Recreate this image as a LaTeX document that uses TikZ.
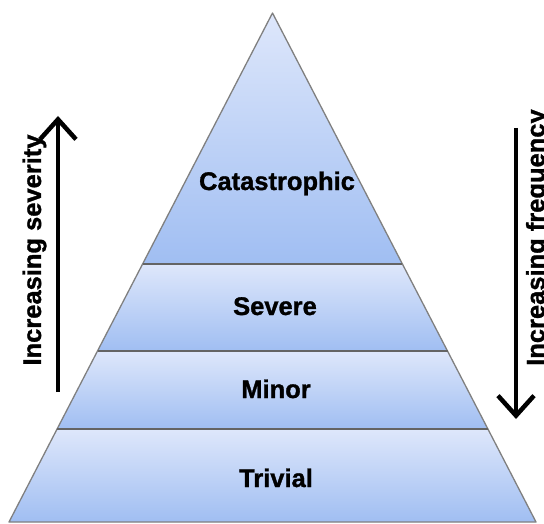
\documentclass[tikz,border=0pt]{standalone}
\usepackage{fontspec}
\setmainfont{Liberation Sans}[BoldFeatures={FakeBold=1.2}]
\usetikzlibrary{arrows.meta}
\definecolor{lighttop}{RGB}{222,231,251}
\definecolor{darkbot}{RGB}{160,190,242}
\definecolor{edgegrey}{RGB}{128,128,128}
\definecolor{sepgrey}{RGB}{100,100,100}
\tikzset{
  layer/.style={top color=lighttop, bottom color=darkbot, draw=edgegrey, line width=1.3pt, line join=round},
  sep/.style={draw=sepgrey, line width=1.8pt},
  lbl/.style={font=\fontsize{25.5}{30}\selectfont\bfseries, anchor=base, inner sep=0pt},
  sidelbl/.style={font=\fontsize{25.5}{30}\selectfont\bfseries, anchor=base, inner sep=0pt, rotate=90},
  bigarrow/.style={line width=4.5pt, -{Straight Barb[length=20pt,width=36pt,line width=4.5pt]}}
}
\begin{document}
\begin{tikzpicture}[x=1pt,y=-1pt]
\clip (0,0) rectangle (544,524);
\fill[white] (0,0) rectangle (544,524);
% pyramid corner coordinates
\coordinate (apex) at (272.5,13);
\coordinate (l1) at (142.6,264); \coordinate (r1) at (402.4,264);
\coordinate (l2) at (97.5,351);  \coordinate (r2) at (447.5,351);
\coordinate (l3) at (57.1,429);  \coordinate (r3) at (487.9,429);
\coordinate (l4) at (9,522);     \coordinate (r4) at (536,522);
% layers
\path[layer] (apex) -- (r1) -- (l1) -- cycle;
\path[layer] (l1) -- (r1) -- (r2) -- (l2) -- cycle;
\path[layer] (l2) -- (r2) -- (r3) -- (l3) -- cycle;
\path[layer] (l3) -- (r3) -- (r4) -- (l4) -- cycle;
\draw[sep] (l1) -- (r1);
\draw[sep] (l2) -- (r2);
\draw[sep] (l3) -- (r3);
% labels
\node[lbl] (cat) at (277,190) {Catastrophic};
\node[lbl] (sev) at (275,315) {Severe};
\node[lbl] (min) at (276,398) {Minor};
\node[lbl] (tri) at (276,487) {Trivial};
% side arrows
\coordinate (sevfrom) at (58,392);
\coordinate (sevto) at (58,116);
\draw[bigarrow] (sevfrom) -- (sevto);
\node[sidelbl] (sevlbl) at (41,250) {Increasing severity};
\coordinate (freqfrom) at (516,128);
\coordinate (freqto) at (516,419);
\draw[bigarrow] (freqfrom) -- (freqto);
\node[sidelbl, anchor=base west] (freqlbl) at (544.5,366) {Increasing frequency};
\end{tikzpicture}
\end{document}
